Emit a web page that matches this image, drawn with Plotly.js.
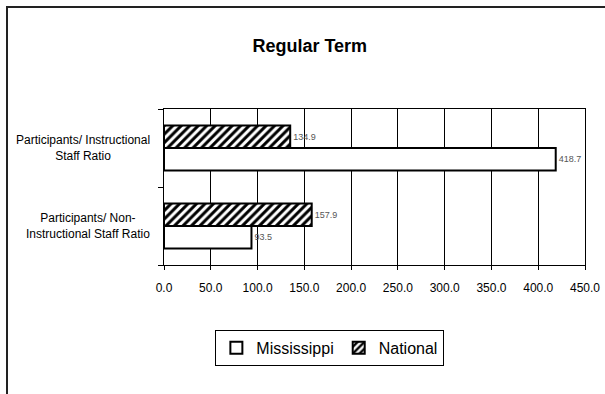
<!DOCTYPE html>
<html>
<head>
<meta charset="utf-8">
<script src="https://cdn.plot.ly/plotly-3.0.1.min.js"></script>
<style>
  html, body { margin: 0; padding: 0; background: #fff; }
  #wrap { position: relative; width: 605px; height: 394px; overflow: hidden; }
  #chart { position: absolute; left: 0; top: 0; width: 605px; height: 394px; }
  #frame { position: absolute; left: 6px; top: 6px; width: 620px; height: 420px;
           border-left: 2px solid #222; border-top: 2px solid #222; pointer-events: none; }
</style>
</head>
<body>
<div id="wrap">
  <div id="chart"></div>
  <div id="frame"></div>
</div>
<script>
// Data
const categories = [
  "Participants/ Non-<br>Instructional Staff Ratio",
  "Participants/ Instructional<br>Staff Ratio"
];
const mississippi = [93.5, 418.7];
const national = [157.9, 134.9];
const seriesNames = ["Mississippi", "National"];
const chartTitle = "Regular Term";

const FONT = '"Liberation Sans", Arial, sans-serif';

const traces = [
  {
    type: 'bar', orientation: 'h', name: seriesNames[0],
    y: categories, x: mississippi,
    text: mississippi.map(v => v.toFixed(1)), textposition: 'outside',
    textfont: { family: FONT, size: 9, color: '#555' },
    cliponaxis: false,
    marker: { color: '#ffffff', line: { color: '#000', width: 2 } },
    hoverinfo: 'none'
  },
  {
    type: 'bar', orientation: 'h', name: seriesNames[1],
    y: categories, x: national,
    text: national.map(v => v.toFixed(1)), textposition: 'outside',
    textfont: { family: FONT, size: 9, color: '#555' },
    cliponaxis: false,
    marker: { color: '#ffffff', line: { color: '#000', width: 2 },
      pattern: { shape: '/', fgcolor: '#000', bgcolor: '#fff', size: 6, solidity: 0.5 } },
    hoverinfo: 'none'
  }
];

const annotations = categories.map(c => ({
  xref: 'paper', yref: 'y', x: -0.028, y: c, xanchor: 'right', yanchor: 'middle',
  align: 'center', text: c, showarrow: false,
  font: { family: FONT, size: 12, color: '#000' }
}));

const layout = {
  width: 605, height: 394,
  margin: { l: 164, r: 20, t: 109, b: 129 },
  paper_bgcolor: '#fff', plot_bgcolor: '#fff',
  barmode: 'group', bargap: 0.42, bargroupgap: 0,
  showlegend: true,
  title: { text: '<b>' + chartTitle + '</b>', xref: 'container', yref: 'container',
    x: 0.512, y: 0.885, xanchor: 'center', yanchor: 'middle',
    font: { family: FONT, size: 18, color: '#000' } },
  xaxis: {
    range: [0, 450], dtick: 50, tick0: 0, tickformat: '.1f',
    showgrid: true, gridcolor: '#000', gridwidth: 1,
    showline: true, linecolor: '#000', linewidth: 1, mirror: true,
    ticks: 'outside', ticklen: 4, tickcolor: '#000',
    ticklabelstandoff: 8,
    tickfont: { family: FONT, size: 12, color: '#000' },
    zeroline: false, fixedrange: true
  },
  yaxis: {
    type: 'category', tickson: 'boundaries',
    showticklabels: false,
    showgrid: false, showline: true, linecolor: '#000', linewidth: 1, mirror: true,
    ticks: 'outside', ticklen: 5, tickcolor: '#000',
    zeroline: false, fixedrange: true
  },
  legend: {
    orientation: 'h', xref: 'paper', yref: 'paper', x: 0.394, y: -0.415,
    xanchor: 'center', yanchor: 'top',
    bordercolor: '#000', borderwidth: 1, bgcolor: '#fff',
    font: { family: FONT, size: 16, color: '#000' },
    traceorder: 'normal', itemwidth: 30
  },
  annotations: annotations
};

Plotly.newPlot('chart', traces, layout, { displayModeBar: false, staticPlot: true });
</script>
</body>
</html>
